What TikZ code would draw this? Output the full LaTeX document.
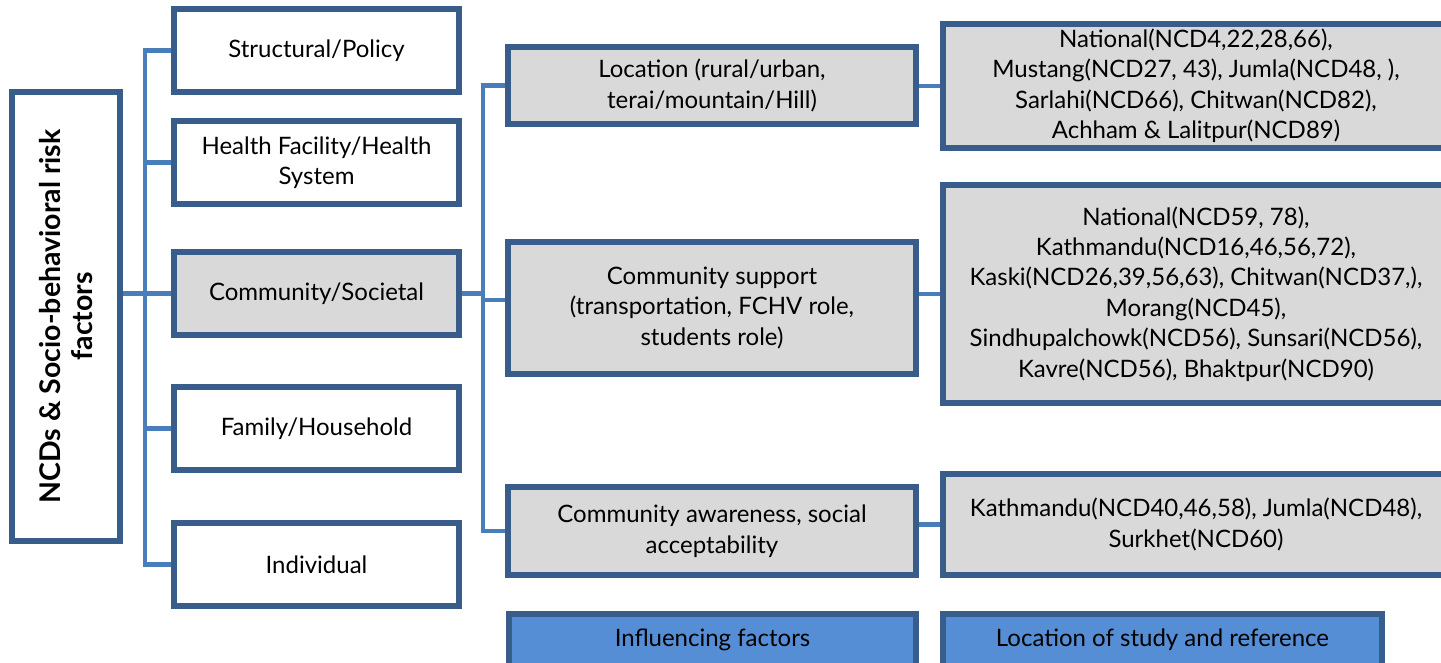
\documentclass[tikz,border=0pt]{standalone}
\usepackage{fontspec}
\setmainfont{Lato}
\usetikzlibrary{backgrounds}

\definecolor{edge}{HTML}{385D8A}
\definecolor{linkblue}{HTML}{4A7EBB}
\definecolor{shade}{HTML}{D9D9D9}
\definecolor{keyfill}{HTML}{558ED5}

\newcommand\txt{\fontsize{24}{30.5}\selectfont}
\newcommand\headtxt{\fontsize{28.5}{32}\selectfont\bfseries}

\tikzset{
  box/.style={draw=edge, line width=5.2pt, fill=white, align=center,
              font=\txt, inner sep=0pt},
  greybox/.style={box, fill=shade},
  keybox/.style={box, fill=keyfill},
  link/.style={draw=linkblue, line width=4.6pt, line cap=rect},
}

\begin{document}
\begin{tikzpicture}[x=1pt, y=-1pt]
\useasboundingbox (0,0) rectangle (1441,663);
\clip (0,0) rectangle (1441,663);

% root
\node[box, minimum width=108pt, minimum height=449pt,
      label={[rotate=90, font=\headtxt, align=center]center:NCDs \& Socio-behavioral risk\\factors}]
      (main) at (66,316.5) {};

% levels
\node[box, minimum width=285pt, minimum height=83pt] (struct) at (316.5,50.5) {Structural/Policy};
\node[box, minimum width=285pt, minimum height=83pt] (health) at (316.5,162.5) {Health Facility/Health\\System};
\node[greybox, minimum width=285pt, minimum height=83pt] (comm) at (316.5,293.5) {Community/Societal};
\node[box, minimum width=285pt, minimum height=83pt] (family) at (316.5,428.5) {Family/Household};
\node[box, minimum width=285pt, minimum height=83pt] (indiv) at (316.5,564.5) {Individual};

% influencing factors
\node[greybox, minimum width=408pt, minimum height=77pt] (loc) at (712,85.5) {Location (rural/urban,\\terai/mountain/Hill)};
\node[greybox, minimum width=408pt, minimum height=132pt] (supp) at (712,308) {Community support\\(transportation, FCHV role,\\students role)};
\node[greybox, minimum width=408pt, minimum height=88pt] (aware) at (712,531) {Community awareness, social\\acceptability};

% study locations
\node[greybox, minimum width=506pt, minimum height=124pt] (refA) at (1196,86)
  {National(NCD4,22,28,66),\\Mustang(NCD27, 43), Jumla(NCD48, ),\\Sarlahi(NCD66), Chitwan(NCD82),\\Achham \& Lalitpur(NCD89)};
\node[greybox, minimum width=506pt, minimum height=218pt] (refB) at (1196,294)
  {National(NCD59, 78),\\Kathmandu(NCD16,46,56,72),\\Kaski(NCD26,39,56,63), Chitwan(NCD37,),\\Morang(NCD45),\\Sindhupalchowk(NCD56), Sunsari(NCD56),\\Kavre(NCD56), Bhaktpur(NCD90)};
\node[greybox, minimum width=506pt, minimum height=101pt] (refC) at (1196,524.5)
  {Kathmandu(NCD40,46,58), Jumla(NCD48),\\Surkhet(NCD60)};

% legend
\node[keybox, minimum width=407pt, minimum height=52pt] (keyA) at (712.5,640) {Influencing factors};
\node[keybox, minimum width=439pt, minimum height=52pt] (keyB) at (1162.5,640) {Location of study and reference};

% connectors
\coordinate (t1) at (145,0);
\coordinate (t2) at (483,0);
\coordinate (sb) at ([yshift=8pt]supp.west);
\begin{scope}[on background layer]
  \draw[link] (main.east |- comm.west) -- (comm.west);
  \draw[link] (t1 |- struct.west) -- (t1 |- indiv.west);
  \foreach \n in {struct,health,family,indiv}
    \draw[link] (t1 |- \n.west) -- (\n.west);
  \draw[link] (comm.east) -- (t2 |- comm.east);
  \draw[link] (t2 |- loc.west) -- (t2 |- aware.west);
  \draw[link] (t2 |- loc.west) -- (loc.west);
  \draw[link] (t2 |- sb) -- (sb);
  \draw[link] (t2 |- aware.west) -- (aware.west);
  \draw[link] (loc.east |- refA.west) -- (refA.west);
  \draw[link] (supp.east |- refB.west) -- (refB.west);
  \draw[link] (aware.east |- refC.west) -- (refC.west);
\end{scope}
\end{tikzpicture}
\end{document}
